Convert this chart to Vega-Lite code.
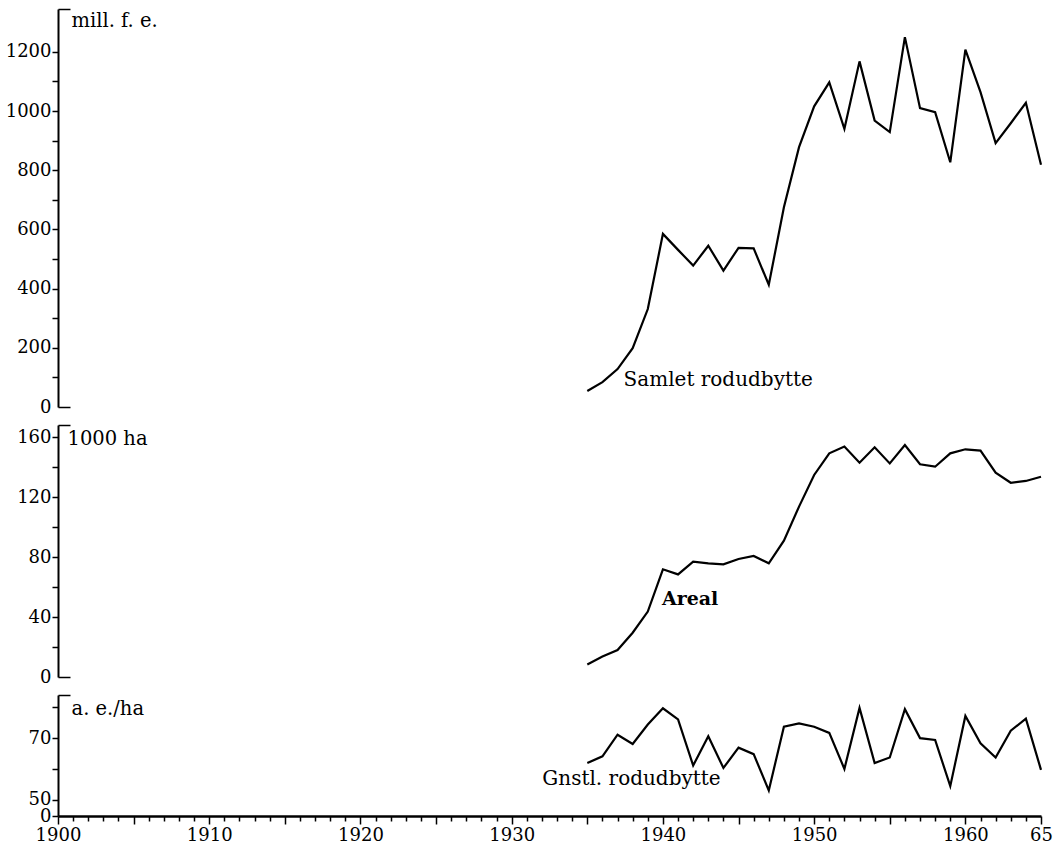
{
  "$schema": "https://vega.github.io/schema/vega-lite/v6.json",
  "background": "white",
  "padding": {"left": 5, "top": 0, "right": 12, "bottom": 0},
  "config": {
    "font": "DejaVu Serif",
    "view": {"stroke": null},
    "concat": {"spacing": 0},
    "axis": {
      "labelFont": "DejaVu Serif", "labelFontSize": 18, "labelColor": "black",
      "domainColor": "black", "domainWidth": 2, "tickColor": "black", "tickWidth": 1.5,
      "grid": false, "labelOverlap": false, "labelFlush": false,
      "titleFont": "DejaVu Serif", "titleFontWeight": "normal", "titleFontSize": 19.5, "titleColor": "black"
    }
  },
  "datasets": {
    "d": [
      {"year": 1935, "samlet": 54, "areal": 8.4, "gnstl": 61.9},
      {"year": 1936, "samlet": 84, "areal": 13.6, "gnstl": 64.1},
      {"year": 1937, "samlet": 128, "areal": 18, "gnstl": 71.1},
      {"year": 1938, "samlet": 199, "areal": 29.5, "gnstl": 68.1},
      {"year": 1939, "samlet": 331, "areal": 43.6, "gnstl": 74.4},
      {"year": 1940, "samlet": 585, "areal": 71.8, "gnstl": 79.7},
      {"year": 1941, "samlet": 531, "areal": 68.4, "gnstl": 76.1},
      {"year": 1942, "samlet": 478, "areal": 76.9, "gnstl": 61.1},
      {"year": 1943, "samlet": 545, "areal": 75.8, "gnstl": 70.6},
      {"year": 1944, "samlet": 461, "areal": 75.1, "gnstl": 60.3},
      {"year": 1945, "samlet": 538, "areal": 78.7, "gnstl": 66.9},
      {"year": 1946, "samlet": 536, "areal": 80.7, "gnstl": 64.8},
      {"year": 1947, "samlet": 413, "areal": 75.8, "gnstl": 53},
      {"year": 1948, "samlet": 675, "areal": 90.9, "gnstl": 73.7},
      {"year": 1949, "samlet": 878, "areal": 113.6, "gnstl": 74.8},
      {"year": 1950, "samlet": 1016, "areal": 134.7, "gnstl": 73.7},
      {"year": 1951, "samlet": 1097, "areal": 149.1, "gnstl": 71.7},
      {"year": 1952, "samlet": 940, "areal": 153.6, "gnstl": 60},
      {"year": 1953, "samlet": 1168, "areal": 142.9, "gnstl": 79.8},
      {"year": 1954, "samlet": 968, "areal": 153.1, "gnstl": 61.9},
      {"year": 1955, "samlet": 929, "areal": 142.4, "gnstl": 63.7},
      {"year": 1956, "samlet": 1250, "areal": 154.7, "gnstl": 79.4},
      {"year": 1957, "samlet": 1010, "areal": 141.8, "gnstl": 70},
      {"year": 1958, "samlet": 996, "areal": 140.2, "gnstl": 69.4},
      {"year": 1959, "samlet": 827, "areal": 149.1, "gnstl": 54.4},
      {"year": 1960, "samlet": 1208, "areal": 151.8, "gnstl": 77.2},
      {"year": 1961, "samlet": 1064, "areal": 150.9, "gnstl": 68.3},
      {"year": 1962, "samlet": 892, "areal": 136.2, "gnstl": 63.7},
      {"year": 1963, "samlet": 959, "areal": 129.5, "gnstl": 72.4},
      {"year": 1964, "samlet": 1028, "areal": 130.7, "gnstl": 76.3},
      {"year": 1965, "samlet": 819, "areal": 133.5, "gnstl": 59.7}
    ]
  },
  "vconcat": [
    {
      "width": 983, "height": 398,
      "data": {"name": "d"},
      "encoding": {
        "x": {"field": "year", "type": "quantitative", "scale": {"domain": [1900, 1965], "nice": false, "zero": false}, "axis": null},
        "y": {"field": "samlet", "type": "quantitative", "scale": {"domain": [0, 1345], "nice": false},
          "axis": {
            "values": [0, 100, 200, 300, 400, 500, 600, 700, 800, 900, 1000, 1100, 1200, 1345],
            "format": "d",
            "labelExpr": "datum.value % 200 === 0 ? datum.label : ''",
            "tickSize": {"condition": {"test": "datum.value === 0 || datum.value > 1300", "value": -12}, "value": 6},
            "labelPadding": {"condition": {"test": "datum.value === 0 || datum.value > 1300", "value": 19}, "value": 1},
            "title": "mill. f. e.", "titleAngle": 0, "titleAlign": "left", "titleBaseline": "top", "titleX": 13, "titleY": 2
          }}
      },
      "layer": [
        {"mark": {"type": "line", "color": "black", "strokeWidth": 2.2}},
        {"transform": [{"filter": "datum.year === 1937"}],
         "mark": {"type": "text", "align": "left", "baseline": "middle", "dx": 6, "dy": 11, "fontSize": 20, "font": "DejaVu Serif", "color": "black"},
         "encoding": {"text": {"value": "Samlet rodudbytte"}}}
      ]
    },
    {
      "width": 983, "height": 252,
      "data": {"name": "d"},
      "encoding": {
        "x": {"field": "year", "type": "quantitative", "scale": {"domain": [1900, 1965], "nice": false, "zero": false}, "axis": null},
        "y": {"field": "areal", "type": "quantitative", "scale": {"domain": [0, 168], "nice": false},
          "axis": {
            "values": [0, 20, 40, 60, 80, 100, 120, 140, 160, 168],
            "format": "d",
            "labelExpr": "datum.value % 40 === 0 ? datum.label : ''",
            "tickSize": {"condition": {"test": "datum.value === 0 || datum.value > 165", "value": -12}, "value": 6},
            "labelPadding": {"condition": {"test": "datum.value === 0 || datum.value > 165", "value": 19}, "value": 1},
            "title": "1000 ha", "titleAngle": 0, "titleAlign": "left", "titleBaseline": "top", "titleX": 9, "titleY": 4
          }}
      },
      "layer": [
        {"mark": {"type": "line", "color": "black", "strokeWidth": 2.2}},
        {"transform": [{"filter": "datum.year === 1940"}],
         "mark": {"type": "text", "align": "left", "baseline": "middle", "dx": -1, "dy": 30, "fontSize": 19, "fontWeight": "bold", "font": "DejaVu Serif", "color": "black"},
         "encoding": {"text": {"value": "Areal"}}}
      ]
    },
    {
      "width": 983, "height": 121,
      "data": {"name": "d"},
      "encoding": {
        "x": {"field": "year", "type": "quantitative", "scale": {"domain": [1900, 1965], "nice": false, "zero": false},
          "axis": {
            "values": [1900,1901,1902,1903,1904,1905,1906,1907,1908,1909,1910,1911,1912,1913,1914,1915,1916,1917,1918,1919,1920,1921,1922,1923,1924,1925,1926,1927,1928,1929,1930,1931,1932,1933,1934,1935,1936,1937,1938,1939,1940,1941,1942,1943,1944,1945,1946,1947,1948,1949,1950,1951,1952,1953,1954,1955,1956,1957,1958,1959,1960,1961,1962,1963,1964,1965],
            "format": "d",
            "labelExpr": "datum.value === 1965 ? '65' : (datum.value % 10 === 0 ? datum.label : '')",
            "tickSize": {"condition": {"test": "datum.value % 5 === 0", "value": 8}, "value": 5},
            "labelPadding": 2,
            "domainWidth": 2.5,
            "title": null
          }},
        "y": {"field": "gnstl", "type": "quantitative", "scale": {"domain": [44.7, 84], "nice": false, "zero": false},
          "axis": {
            "values": [44.7, 50, 60, 70, 80, 84],
            "labelExpr": "datum.value < 45 ? '0' : ((datum.value === 50 || datum.value === 70) ? datum.label : '')",
            "tickSize": {"condition": {"test": "datum.value > 83", "value": -12}, "value": 6},
            "labelPadding": {"condition": {"test": "datum.value > 83", "value": 19}, "value": 1},
            "title": "a. e./ha", "titleAngle": 0, "titleAlign": "left", "titleBaseline": "top", "titleX": 13, "titleY": 4
          }}
      },
      "layer": [
        {"mark": {"type": "line", "color": "black", "strokeWidth": 2.2}},
        {"transform": [{"filter": "datum.year === 1935"}],
         "mark": {"type": "text", "align": "left", "baseline": "middle", "dx": -45, "dy": 16, "fontSize": 20, "font": "DejaVu Serif", "color": "black"},
         "encoding": {"text": {"value": "Gnstl. rodudbytte"}}}
      ]
    }
  ]
}
